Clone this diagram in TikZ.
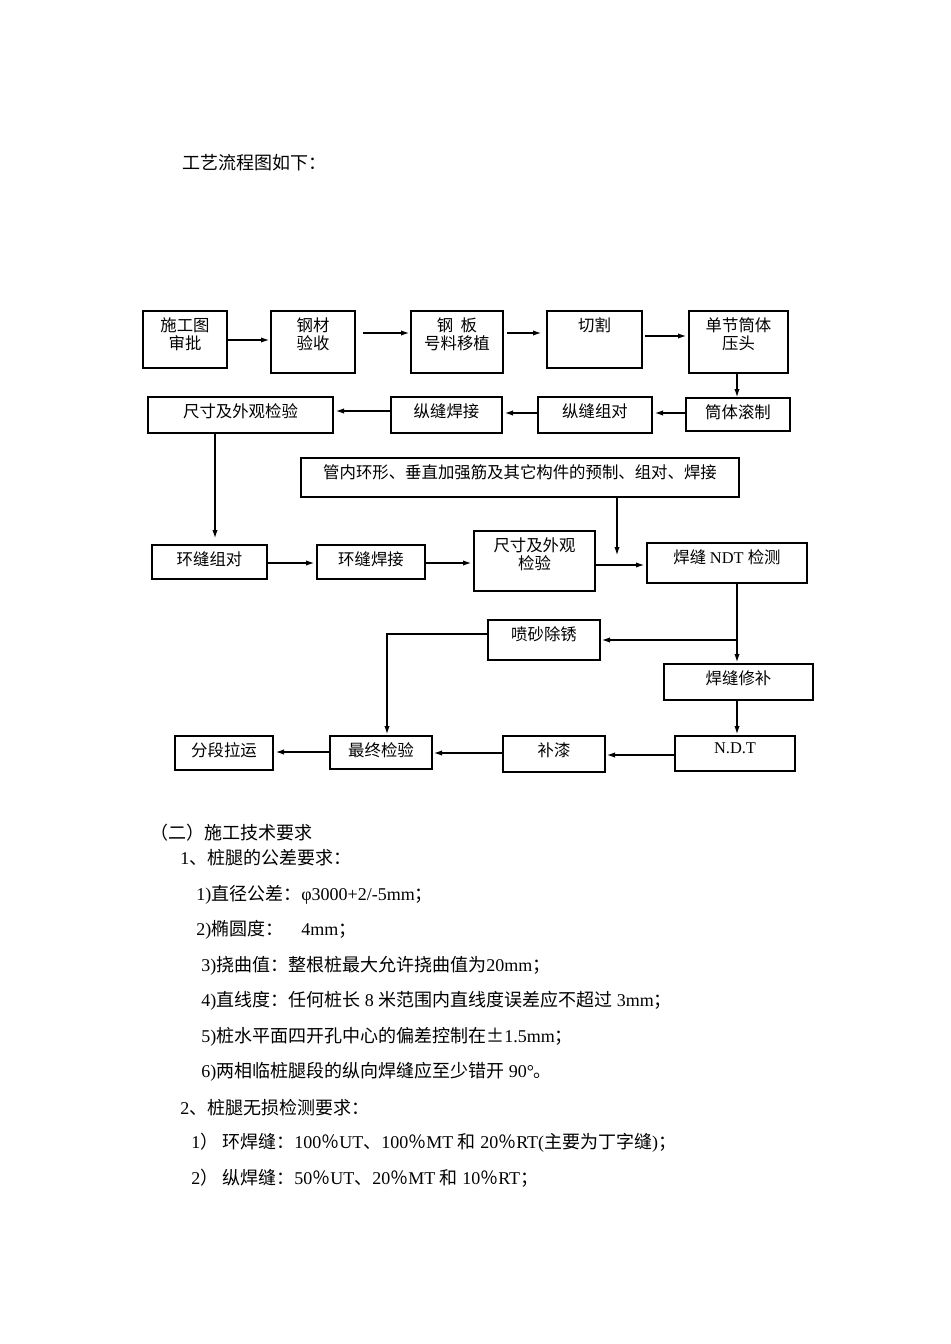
\documentclass[tikz,border=0pt]{standalone}
\usepackage{fontspec}
\setmainfont{Liberation Serif}
\newfontfamily\cjk{Noto Sans CJK SC}
\usetikzlibrary{arrows.meta}
\begin{document}
\begin{tikzpicture}[x=0.75pt,y=-0.75pt,
 box/.style={draw,line width=0.9pt,inner sep=0pt},
 lbl/.style={font=\cjk\fontsize{12.3}{13.5}\selectfont,align=center,anchor=north},
 arr/.style={-{Latex[length=6pt,width=4pt]},line width=0.8pt},
 txt/.style={anchor=west,inner sep=0pt,font=\fontsize{13.5}{15}\selectfont}]
\useasboundingbox[fill=white] (0,0) rectangle (950,1344);
\newcommand\bx[6]{\draw[box] (#2,#3) rectangle (#4,#5); \coordinate (#1nw) at (#2,#3); \coordinate (#1se) at (#4,#5); \node[lbl] (#1t) at ({(#2+#4)/2},#3+2) {#6};}
\node[txt] (title) at (182,163) {\cjk 工艺流程图如下：};
\bx{a}{143}{311}{227}{368}{施工图\\审批}
\bx{b}{271}{311}{355}{373}{钢材\\验收}
\bx{c}{411}{311}{503}{373}{钢\ \ 板\\号料移植}
\bx{d}{547}{311}{642}{368}{切割}
\bx{e}{689}{311}{788}{373}{单节筒体\\压头}
\bx{f}{686}{398}{790}{431}{筒体滚制}
\bx{g}{538}{397}{652}{433}{纵缝组对}
\bx{h}{391}{397}{502}{433}{纵缝焊接}
\bx{i}{148}{397}{333}{433}{尺寸及外观检验}
\bx{j}{301}{458}{739}{497}{管内环形、垂直加强筋及其它构件的预制、组对、焊接}
\bx{k}{152}{545}{267}{579}{环缝组对}
\bx{l}{317}{545}{425}{579}{环缝焊接}
\bx{m}{474}{531}{595}{591}{尺寸及外观\\检验}
\bx{n}{647}{543}{807}{583}{焊缝 \rmfamily NDT \cjk 检测}
\bx{o}{488}{620}{600}{660}{喷砂除锈}
\bx{p}{664}{664}{813}{700}{焊缝修补}
\bx{q}{675}{736}{795}{771}{\rmfamily N.D.T}
\bx{r}{503}{736}{605}{772}{补漆}
\bx{s}{330}{736}{432}{769}{最终检验}
\bx{u}{175}{736}{273}{770}{分段拉运}
\coordinate (p1) at (387,634);
\coordinate (p2) at (737,640);
\draw[arr] (227,340) -- (269,340);
\draw[arr] (363,333) -- (409,333);
\draw[arr] (507,333) -- (541,333);
\draw[arr] (645,336) -- (686,336);
\draw[arr] (737,373) -- (737,397);
\draw[arr] (686,413) -- (655,413);
\draw[arr] (538,413) -- (505,413);
\draw[arr] (391,411) -- (336,411);
\draw[arr] (215,433) -- (215,538);
\draw[arr] (267,563) -- (314,563);
\draw[arr] (425,563) -- (471,563);
\draw[arr] (595,565) -- (644,565);
\draw[arr] (617,497) -- (617,555);
\draw[arr] (737,583) -- (737,662);
\draw[arr] (p2) -- (602,640);
\draw[arr] (488,634) -- (p1) -- (387,734);
\draw[arr] (737,700) -- (737,734);
\draw[arr] (675,755) -- (607,755);
\draw[arr] (503,753) -- (434,753);
\draw[arr] (330,752) -- (276,752);
\node[txt] (t1) at (150,833) {\cjk （二）施工技术要求};
\node[txt] (t2) at (180,858) {1\cjk 、桩腿的公差要求：};
\node[txt] (t3) at (196,895) {1)\cjk 直径公差：\rmfamily φ3000+2/-5mm\cjk ；};
\node[txt] (t4) at (196,930) {2)\cjk 椭圆度：\rmfamily\quad 4mm\cjk ；};
\node[txt] (t5) at (201,966) {3)\cjk 挠曲值：整根桩最大允许挠曲值为\rmfamily 20mm\cjk ；};
\node[txt] (t6) at (201,1001) {4)\cjk 直线度：任何桩长\rmfamily\ 8 \cjk 米范围内直线度误差应不超过\rmfamily\ 3mm\cjk ；};
\node[txt] (t7) at (201,1037) {5)\cjk 桩水平面四开孔中心的偏差控制在±\rmfamily 1.5mm\cjk ；};
\node[txt] (t8) at (201,1072) {6)\cjk 两相临桩腿段的纵向焊缝应至少错开\rmfamily\ 90°\cjk 。};
\node[txt] (t9) at (180,1108) {2\cjk 、桩腿无损检测要求：};
\node[txt] (t10) at (191,1143) {1\cjk ）\ 环焊缝：\rmfamily 100\cjk ％\rmfamily UT\cjk 、\rmfamily 100\cjk ％\rmfamily MT \cjk 和\rmfamily\ 20\cjk ％\rmfamily RT(\cjk 主要为丁字缝\rmfamily )\cjk ；};
\node[txt] (t11) at (191,1178) {2\cjk ）\ 纵焊缝：\rmfamily 50\cjk ％\rmfamily UT\cjk 、\rmfamily 20\cjk ％\rmfamily MT \cjk 和\rmfamily\ 10\cjk ％\rmfamily RT\cjk ；};
\end{tikzpicture}
\end{document}
